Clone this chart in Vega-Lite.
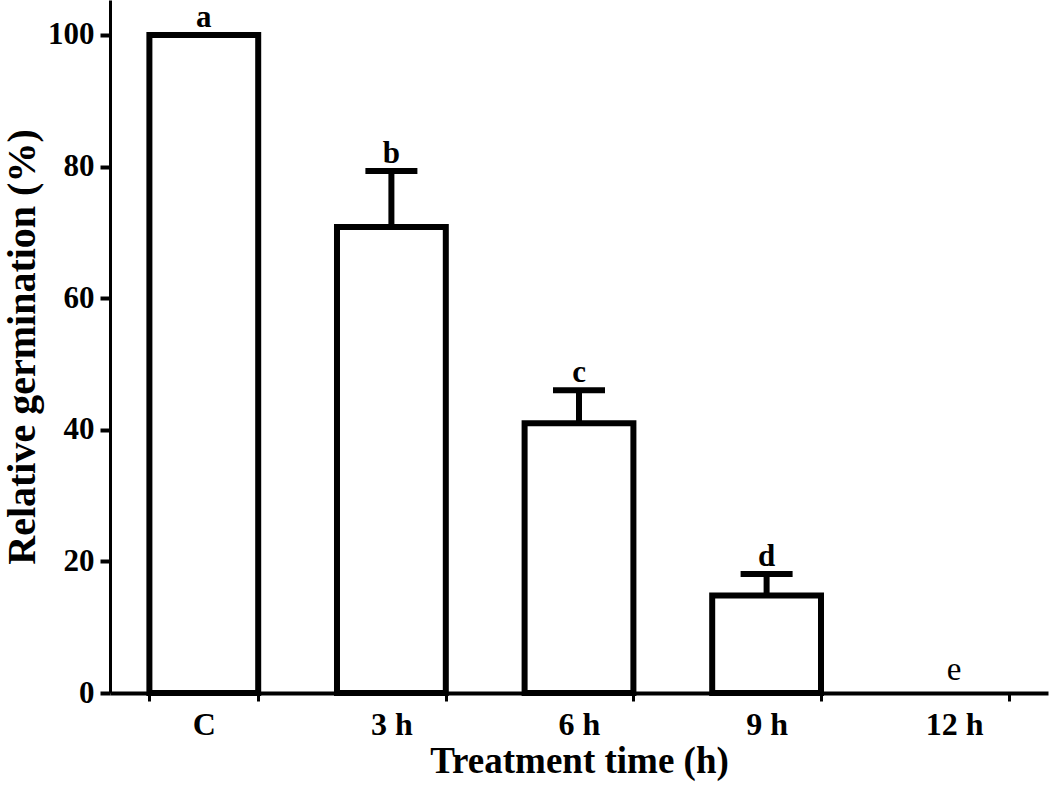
{
  "$schema": "https://vega.github.io/schema/vega-lite/v6.json",
  "width": 938,
  "height": 693,
  "autosize": {"type": "none"},
  "padding": {"left": 110, "top": 0, "right": 2, "bottom": 96},
  "background": "white",
  "config": {
    "view": {"stroke": null},
    "font": "Liberation Serif",
    "axis": {"grid": false, "domainColor": "black", "tickColor": "black", "labelColor": "black", "titleColor": "black", "labelFont": "Liberation Serif", "titleFont": "Liberation Serif", "labelFontWeight": "bold", "titleFontWeight": "bold"}
  },
  "data": {
    "values": [
      {"group": "C", "value": 100, "upper": 100, "letter": "a"},
      {"group": "3 h", "value": 70.8, "upper": 79.3, "letter": "b"},
      {"group": "6 h", "value": 41.0, "upper": 46.0, "letter": "c"},
      {"group": "9 h", "value": 14.8, "upper": 18.1, "letter": "d"},
      {"group": "12 h", "value": 0, "upper": 0, "letter": "e"}
    ]
  },
  "encoding": {
    "x": {
      "field": "group", "type": "nominal", "sort": null,
      "scale": {"paddingInner": 0.42, "paddingOuter": 0.21},
      "axis": {"title": "Treatment time (h)", "labelAngle": 0, "labelFontSize": 32, "titleFontSize": 37, "tickBand": "extent", "tickSize": 8, "tickWidth": 3, "domainWidth": 4, "labelPadding": 8, "titlePadding": 3}
    }
  },
  "layer": [
    {
      "transform": [{"filter": "datum.value > 0"}],
      "mark": {"type": "bar", "fill": "white", "stroke": "black", "strokeWidth": 6, "strokeJoin": "miter"},
      "encoding": {
        "y": {
          "field": "value", "type": "quantitative",
          "scale": {"domain": [0, 105.3], "nice": false},
          "axis": {"title": "Relative germination (%)", "values": [0, 20, 40, 60, 80, 100], "labelFontSize": 31, "titleFontSize": 40, "tickSize": 10, "tickWidth": 4, "domainWidth": 3, "labelPadding": 6, "titlePadding": 5}
        }
      }
    },
    {
      "transform": [{"filter": "datum.upper > datum.value"}],
      "mark": {"type": "rule", "stroke": "black", "strokeWidth": 6},
      "encoding": {"y": {"field": "value", "type": "quantitative"}, "y2": {"field": "upper"}}
    },
    {
      "transform": [{"filter": "datum.upper > datum.value"}],
      "mark": {"type": "tick", "color": "black", "thickness": 6, "size": 52, "orient": "horizontal", "opacity": 1},
      "encoding": {"y": {"field": "upper", "type": "quantitative"}}
    },
    {
      "transform": [{"filter": "datum.value > 0"}],
      "mark": {"type": "text", "fontSize": 31, "fontWeight": "bold", "baseline": "alphabetic", "dy": -8, "color": "black", "font": "Liberation Serif"},
      "encoding": {"y": {"field": "upper", "type": "quantitative"}, "text": {"field": "letter"}}
    },
    {
      "transform": [{"filter": "datum.value <= 0"}],
      "mark": {"type": "text", "fontSize": 33, "fontWeight": "normal", "baseline": "alphabetic", "dy": -13, "color": "black", "font": "Liberation Serif"},
      "encoding": {"y": {"field": "upper", "type": "quantitative"}, "text": {"field": "letter"}}
    }
  ]
}
